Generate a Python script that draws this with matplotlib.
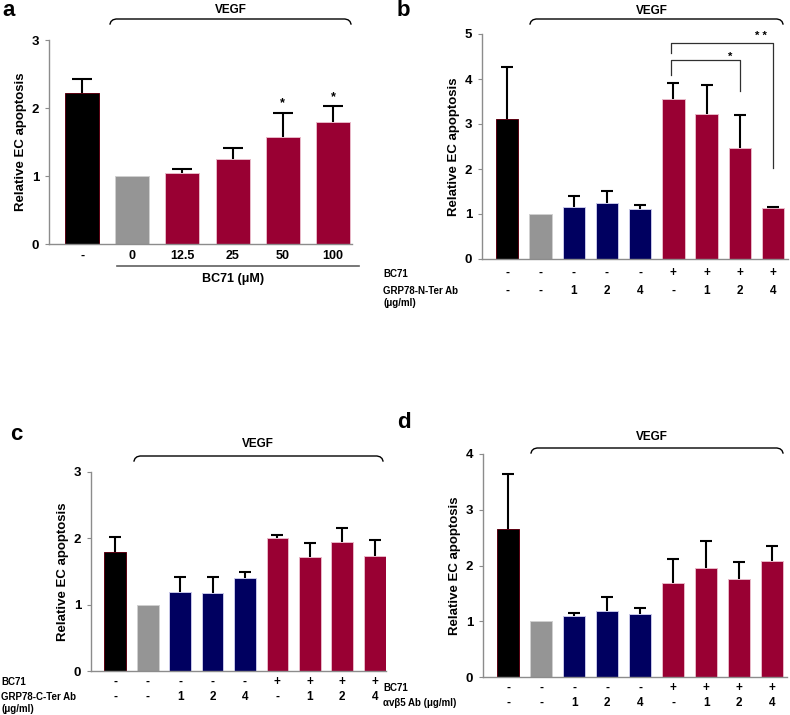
import matplotlib
matplotlib.use("Agg")
import matplotlib.pyplot as plt
import matplotlib.transforms as mtrans
import numpy as np

plt.rcParams['font.family'] = ['Liberation Sans', 'DejaVu Sans']
plt.rcParams['font.weight'] = 'bold'

W, H = 790, 715

# ---------------- data ----------------
# panel a
a_labels = ["-", "0", "12.5", "25", "50", "100"]
a_means = [2.22, 1.00, 1.04, 1.25, 1.57, 1.79]
a_err = [0.20, 0.00, 0.07, 0.16, 0.36, 0.24]
a_colors = ["black", "gray", "red", "red", "red", "red"]

# panel b
b_means = [3.10, 1.00, 1.16, 1.24, 1.12, 3.55, 3.23, 2.47, 1.13]
b_err = [1.16, 0.00, 0.23, 0.26, 0.07, 0.36, 0.63, 0.72, 0.03]
# panel c
c_means = [1.80, 1.00, 1.19, 1.17, 1.40, 2.01, 1.72, 1.94, 1.74]
c_err = [0.22, 0.00, 0.22, 0.24, 0.09, 0.04, 0.21, 0.22, 0.24]
# panel d
d_means = [2.65, 1.01, 1.10, 1.19, 1.13, 1.69, 1.95, 1.75, 2.08]
d_err = [0.99, 0.00, 0.04, 0.25, 0.10, 0.42, 0.49, 0.31, 0.27]

group_colors = ["black", "gray", "blue", "blue", "blue", "red", "red", "red", "red"]
bc71_row = ["-", "-", "-", "-", "-", "+", "+", "+", "+"]
ab_row = ["-", "-", "1", "2", "4", "-", "1", "2", "4"]

PAL = {"black": "#000000", "gray": "#959595", "blue": "#000060", "red": "#990033"}
EDGE = {"black": "#5a0010", "gray": "#d0d0d0", "blue": "#c8c8e8", "red": "#e8b8c8"}

fig = plt.figure(figsize=(W / 100, H / 100), dpi=100)
fig.patch.set_facecolor("white")


def fx(px):
    return px / W


def fy(py):
    return 1 - py / H


def make_axes(xleft, xright, ytop, ybot, xlim, ylim, yticks):
    ax = fig.add_axes([fx(xleft), fy(ybot), (xright - xleft) / W, (ybot - ytop) / H])
    ax.set_xlim(*xlim)
    ax.set_ylim(*ylim)
    for s in ["top", "right"]:
        ax.spines[s].set_visible(False)
    for s in ["left", "bottom"]:
        ax.spines[s].set_color("#8c8c8c")
        ax.spines[s].set_linewidth(1.0)
    ax.set_xticks([])
    ax.set_yticks(yticks)
    ax.set_yticklabels([str(t) for t in yticks], fontsize=9.5, fontweight="bold")
    ax.tick_params(axis="y", length=3, width=0.8, color="#8c8c8c", pad=4)
    ax.patch.set_alpha(0)
    # y label
    fig.text(fx(xleft - 28), fy((ytop + ybot) / 2), "Relative EC apoptosis", rotation=90,
             ha="center", va="center", fontsize=9.5, fontweight="bold")
    return ax


def draw_bars(ax, means, errs, colors, width=0.67, capw=9):
    x = np.arange(len(means))
    for i, (m, e, c) in enumerate(zip(means, errs, colors)):
        ax.bar(x[i], m, width=width, color=PAL[c], edgecolor=EDGE[c], linewidth=0.7, zorder=2)
        if e > 0:
            ax.vlines(x[i], m, m + e, color="black", lw=1.5, zorder=3)
            ax.plot([x[i]], [m + e], marker="_", markersize=capw, markeredgewidth=1.5,
                    color="black", zorder=3, clip_on=False)
    return x


def brace(x0, x1, y, h=5):
    r = 6
    xs = [x0, x0 + 1, x0 + 3, x0 + r]
    ys = [y + h, y + 2.5, y + 0.8, y]
    xs += [x1 - r, x1 - 3, x1 - 1, x1]
    ys += [y, y + 0.8, y + 2.5, y + h]
    fig.add_artist(plt.Line2D([fx(v) for v in xs], [fy(v) for v in ys], color="black", lw=1.0,
                              transform=fig.transFigure))


def panel_letter(px, py, s):
    fig.text(fx(px), fy(py), s, fontsize=16, fontweight="bold", ha="left", va="center")


def xtext(ax, xd, py, s, **kw):
    tr = mtrans.blended_transform_factory(ax.transData, fig.transFigure)
    ax.text(xd, fy(py), s, transform=tr, ha="center", va="center", clip_on=False, **kw)


# ---------------- panel a ----------------
axa = make_axes(49, 352, 40, 244, (-0.66, 5.38), (0, 3), [0, 1, 2, 3])
xa = draw_bars(axa, a_means, a_err, a_colors, width=0.68, capw=14)
for i, lab in enumerate(a_labels):
    xtext(axa, xa[i], 256, lab, fontsize=9, fontweight="bold")
axa.text(4, 2.07, "*", ha="center", va="center", fontsize=9, fontweight="bold")
axa.text(5, 2.16, "*", ha="center", va="center", fontsize=9, fontweight="bold")
fig.add_artist(plt.Line2D([fx(117), fx(359)], [fy(266), fy(266)], color="#606060", lw=1.2,
                          transform=fig.transFigure))
fig.text(fx(233), fy(279), "BC71 (μM)", ha="center", va="center", fontsize=9, fontweight="bold")
brace(110, 351, 19)
fig.text(fx(231), fy(10), "VEGF", ha="center", va="center", fontsize=8.5, fontweight="bold")
panel_letter(2, 10, "a")

# ---------------- panel b ----------------
axb = make_axes(482, 788, 34, 259, (-0.76, 8.45), (0, 5), [0, 1, 2, 3, 4, 5])
xb = draw_bars(axb, b_means, b_err, group_colors)
axb.plot([4.92, 4.92, 7, 7], [4.10, 4.43, 4.43, 3.73], color="#303030", lw=0.9, clip_on=False)
axb.plot([4.92, 4.92, 8, 8], [4.58, 4.80, 4.80, 2.02], color="#303030", lw=0.9, clip_on=False)
axb.text(6.7, 4.50, "*", ha="center", va="center", fontsize=8, fontweight="bold")
axb.text(7.65, 4.95, "* *", ha="center", va="center", fontsize=8, fontweight="bold")
for i in range(9):
    xtext(axb, xb[i], 273, bc71_row[i], fontsize=8.5, fontweight="bold")
    xtext(axb, xb[i], 291, ab_row[i], fontsize=8.5, fontweight="bold")
fig.text(fx(383), fy(274), "BC71", ha="left", va="center", fontsize=7, fontweight="bold")
fig.text(fx(383), fy(291), "GRP78-N-Ter Ab", ha="left", va="center", fontsize=7, fontweight="bold")
fig.text(fx(383), fy(303), "(μg/ml)", ha="left", va="center", fontsize=7, fontweight="bold")
brace(530, 783, 19)
fig.text(fx(652), fy(11), "VEGF", ha="center", va="center", fontsize=8.5, fontweight="bold")
panel_letter(397, 10, "b")

# ---------------- panel c ----------------
axc = make_axes(91, 386, 472, 671, (-0.75, 8.35), (0, 3), [0, 1, 2, 3])
xc = draw_bars(axc, c_means, c_err, group_colors)
for i in range(9):
    xtext(axc, xc[i], 682, bc71_row[i], fontsize=8.5, fontweight="bold")
    xtext(axc, xc[i], 697, ab_row[i], fontsize=8.5, fontweight="bold")
fig.text(fx(1), fy(682), "BC71", ha="left", va="center", fontsize=7, fontweight="bold")
fig.text(fx(1), fy(697), "GRP78-C-Ter Ab", ha="left", va="center", fontsize=7, fontweight="bold")
fig.text(fx(1), fy(709), "(μg/ml)", ha="left", va="center", fontsize=7, fontweight="bold")
brace(134, 383, 456)
fig.text(fx(258), fy(444), "VEGF", ha="center", va="center", fontsize=8.5, fontweight="bold")
panel_letter(10, 434, "c")

# ---------------- panel d ----------------
axd = make_axes(483, 787, 454, 677, (-0.77, 8.45), (0, 4), [0, 1, 2, 3, 4])
xd = draw_bars(axd, d_means, d_err, group_colors)
for i in range(9):
    xtext(axd, xd[i], 688, bc71_row[i], fontsize=8.5, fontweight="bold")
    xtext(axd, xd[i], 703, ab_row[i], fontsize=8.5, fontweight="bold")
fig.text(fx(383), fy(688), "BC71", ha="left", va="center", fontsize=7, fontweight="bold")
fig.text(fx(383), fy(703), "αvβ5 Ab (μg/ml)", ha="left", va="center", fontsize=7, fontweight="bold")
brace(531, 783, 448)
fig.text(fx(652), fy(437), "VEGF", ha="center", va="center", fontsize=8.5, fontweight="bold")
panel_letter(397, 423, "d")

fig.savefig("out.png", dpi=100, facecolor="white")
